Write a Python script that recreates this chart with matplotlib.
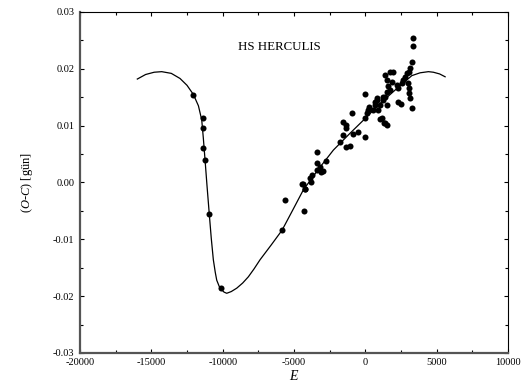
import matplotlib
matplotlib.use("Agg")
import matplotlib.pyplot as plt
from matplotlib.ticker import MultipleLocator

obs_E = [-12077, -11397, -11355, -11397, -11236, -10934, -10135,
         -5839, -5607, -4297, -4437, -3806, -4206,
         -42, -911, -1584, -1353, -1353, -1542, -883, -490, 0, -1773,
         -1353, -1072, -3385, -2733, -3364, -3175, -2944, -3126, -3406,
         -3757, -3876, -4388, -4227,
         210, 98, 280, 680, 800, 1030, 1262, 1381, 1500, 1030, 1311, 1542, -21,
         3322, 3322, 3252, 3133, 3084, 2902, 2783, 2664, 2551, 3014, 3084,
         3084, 3133, 3252, 1963, 1731, 1381, 1500, 1851, 2201, 2313, 1612,
         1731, 1500, 1262, 2313, 2481, 800, 680, 911, 1150, 1381, 561]
obs_OC = [0.0154, 0.01135, 0.0096, 0.0061, 0.0040, -0.0056, -0.0186,
          -0.0084, -0.0030, -0.0050, -0.0003, 0.0000, -0.0012,
          0.0156, 0.0123, 0.0107, 0.0101, 0.0095, 0.0084, 0.0085, 0.0088, 0.0080, 0.0072,
          0.0063, 0.0064, 0.0054, 0.0038, 0.0035, 0.0028, 0.0021, 0.0019, 0.0022,
          0.0013, 0.0007, -0.0003, -0.0012,
          0.0128, 0.0122, 0.0133, 0.0142, 0.0148, 0.0136, 0.0145, 0.0151, 0.0136, 0.0111, 0.0105, 0.0101, 0.0113,
          0.0254, 0.0241, 0.0212, 0.0201, 0.0195, 0.0192, 0.0186, 0.0180, 0.0175, 0.0175, 0.0166,
          0.0157, 0.0148, 0.0131, 0.0195, 0.0195, 0.0189, 0.0180, 0.0177, 0.0172, 0.0166, 0.0169,
          0.0163, 0.0160, 0.0151, 0.0142, 0.0138, 0.0145, 0.0136, 0.0128, 0.0113, 0.0104, 0.0128]

# fitted light-time curve
fit_E = [-15981, -15400, -14800, -14271, -13600, -12988, -12500, -12056,
         -11700, -11467, -11355, -11236, -11100, -10934, -10800, -10654,
         -10520, -10416, -10240, -10065, -9900, -9715, -9400, -9014, -8600,
         -8200, -7800, -7381, -6600, -5839, -5100, -4346, -3300, -2243,
         -1100, 0, 1030, 2100, 3252, 3834, 4417, 4766, 5200, 5586]
fit_OC = [0.0182, 0.0190, 0.0194, 0.0195, 0.0192, 0.0183, 0.0171, 0.0155,
          0.0135, 0.0110, 0.0078, 0.0040, -0.0005, -0.0057, -0.0098, -0.0136,
          -0.0158, -0.0172, -0.0183, -0.0189, -0.0193, -0.0195, -0.0192, -0.0186, -0.0177,
          -0.0166, -0.0152, -0.0136, -0.0110, -0.0084, -0.0049, -0.0013, 0.0023, 0.0057,
          0.0086, 0.0113, 0.0139, 0.0163, 0.0188, 0.0193, 0.0195, 0.0194, 0.0191, 0.0186]

plt.rcParams["font.family"] = "Liberation Serif"
plt.rcParams["mathtext.fontset"] = "custom"
plt.rcParams["mathtext.rm"] = "Liberation Serif"
plt.rcParams["mathtext.it"] = "Liberation Serif:italic"

fig = plt.figure(figsize=(5.26, 3.87), dpi=100)
ax = fig.add_axes([0.152, 0.088, 0.814, 0.881])

ax.plot(fit_E, fit_OC, color="black", linewidth=0.9)
ax.scatter(obs_E, obs_OC, s=19, color="black", zorder=3, linewidths=0)

ax.set_xlim(-20000, 10000)
ax.set_ylim(-0.03, 0.03)
ax.xaxis.set_major_locator(MultipleLocator(5000))
ax.xaxis.set_minor_locator(MultipleLocator(2500))
ax.yaxis.set_major_locator(MultipleLocator(0.01))
ax.yaxis.set_minor_locator(MultipleLocator(0.005))
ax.yaxis.set_major_formatter(plt.FuncFormatter(lambda v, p: f"{v:.2f}"))
ax.xaxis.set_major_formatter(plt.FuncFormatter(lambda v, p: f"{v:.0f}"))

ax.tick_params(which="both", direction="in", top=True, right=True, labelsize=7.5, pad=4)
ax.tick_params(which="major", length=3, width=0.8)
ax.tick_params(which="minor", length=2, width=0.8)

for side in ["left", "bottom"]:
    ax.spines[side].set_linewidth(1.6)
    ax.spines[side].set_color("#555555")
for side in ["top", "right"]:
    ax.spines[side].set_linewidth(0.8)

ax.text(-8920, 0.0238, "HS HERCULIS", fontsize=9.3, va="center", ha="left")
ax.set_xlabel(r"$E$", fontsize=10, labelpad=1)
ax.set_ylabel(r"$(O$-$C)$ [gün]", fontsize=9, labelpad=13)

fig.savefig("out.png", dpi=100)
